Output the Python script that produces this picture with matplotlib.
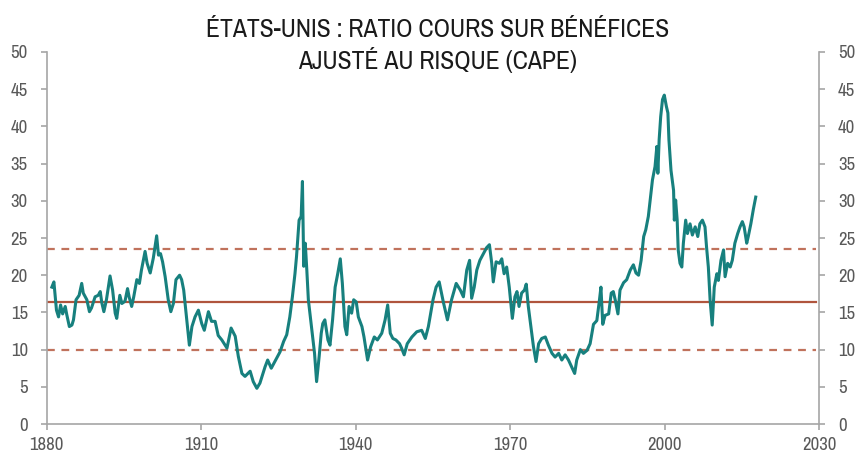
import numpy as np
import matplotlib
matplotlib.use('Agg')
import matplotlib.pyplot as plt
from matplotlib import font_manager

# Données (CAPE de Shiller, Etats-Unis)
annees = [
    1881.0, 1881.4, 1881.9, 1882.3, 1882.7, 1883.1, 1883.6, 1883.9, 1884.4, 1884.9,
    1885.2, 1885.7, 1886.3, 1886.8, 1887.1, 1887.8, 1888.3, 1888.7, 1889.4, 1890.0,
    1890.4, 1890.7, 1891.1, 1891.6, 1892.3, 1892.8, 1893.3, 1893.6, 1894.2, 1894.6,
    1895.2, 1895.7, 1896.0, 1896.5, 1896.9, 1897.5, 1898.0, 1898.4, 1899.1, 1899.5,
    1900.1, 1900.7, 1901.35, 1901.7, 1902.1, 1902.5, 1903.0, 1903.6, 1904.1, 1904.6,
    1905.1, 1905.8, 1906.2, 1906.6, 1907.2, 1907.7, 1908.2, 1908.8, 1909.45, 1910.1,
    1910.6, 1911.4, 1912.0, 1912.7, 1913.3, 1914.0, 1915.0, 1915.8, 1916.6, 1917.2,
    1917.9, 1918.5, 1919.5, 1920.1, 1920.8, 1921.4, 1922.4, 1922.9, 1923.6, 1924.3,
    1925.3, 1926.0, 1926.6, 1927.2, 1927.7, 1928.2, 1928.5, 1929.0, 1929.4, 1929.65,
    1929.9, 1930.2, 1930.5, 1930.8, 1931.1, 1931.6, 1932.0, 1932.4, 1932.9, 1933.3,
    1933.6, 1934.0, 1934.6, 1935.0, 1935.5, 1936.0, 1936.5, 1937.0, 1937.4, 1937.9,
    1938.25, 1938.7, 1939.2, 1939.6, 1940.1, 1940.5, 1941.2, 1941.6, 1942.3, 1942.9,
    1943.6, 1944.2, 1945.05, 1945.7, 1946.2, 1946.7, 1947.2, 1947.8, 1948.5, 1948.9,
    1949.4, 1950.0, 1950.9, 1951.85, 1952.8, 1953.5, 1954.1, 1955.0, 1955.6, 1956.2,
    1957.0, 1957.8, 1958.6, 1959.5, 1960.3, 1960.9, 1961.55, 1962.1, 1962.5, 1963.0,
    1963.5, 1964.1, 1964.8, 1965.4, 1965.95, 1966.4, 1966.7, 1967.25, 1967.9, 1968.35,
    1968.8, 1969.3, 1969.8, 1970.4, 1970.9, 1971.3, 1971.7, 1972.2, 1972.75, 1973.1,
    1973.5, 1974.0, 1974.5, 1975.0, 1975.5, 1976.1, 1976.8, 1977.4, 1978.1, 1978.7,
    1979.4, 1980.0, 1980.65, 1981.3, 1981.9, 1982.5, 1982.9, 1983.6, 1984.2, 1984.9,
    1985.5, 1986.15, 1986.8, 1987.3, 1987.6, 1987.95, 1988.4, 1989.1, 1989.6, 1990.0,
    1990.4, 1990.9, 1991.3, 1992.0, 1992.6, 1993.3, 1993.9, 1994.4, 1994.9, 1995.4,
    1995.9, 1996.3, 1996.8, 1997.3, 1997.6, 1998.1, 1998.45, 1998.65, 1998.9, 1999.2,
    1999.55, 1999.9, 2000.3, 2000.6, 2000.8, 2001.2, 2001.7, 2001.85, 2002.1, 2002.4,
    2002.6, 2002.95, 2003.3, 2003.6, 2004.05, 2004.4, 2004.9, 2005.35, 2005.9, 2006.4,
    2006.8, 2007.3, 2007.8, 2008.1, 2008.45, 2008.8, 2009.2, 2009.6, 2010.1, 2010.4,
    2010.9, 2011.4, 2011.7, 2012.2, 2012.7, 2013.1, 2013.6, 2014.15, 2014.6, 2015.05,
    2015.4, 2015.9, 2016.2, 2016.7, 2017.2, 2017.65,
]
cape = [
    18.4, 19.1, 15.3, 14.4, 16.0, 14.8, 15.8, 14.7, 13.1, 13.3,
    14.0, 16.7, 17.3, 18.9, 17.6, 16.7, 15.1, 15.6, 17.1, 17.3,
    17.8, 16.3, 15.1, 16.7, 19.9, 18.0, 14.9, 14.2, 17.3, 16.2,
    16.5, 18.2, 17.1, 15.8, 17.1, 19.4, 18.9, 20.7, 23.2, 21.6,
    20.3, 22.3, 25.3, 22.7, 22.9, 21.8, 19.8, 16.7, 15.1, 16.2,
    19.4, 20.0, 19.4, 18.0, 14.0, 10.6, 13.1, 14.4, 15.3, 13.5,
    12.6, 15.1, 13.8, 13.8, 11.9, 11.3, 10.2, 12.9, 11.8, 9.1,
    6.8, 6.4, 7.1, 5.7, 4.8, 5.5, 7.7, 8.6, 7.5, 8.4,
    9.7, 11.1, 12.0, 14.4, 17.1, 20.2, 22.5, 27.4, 27.9, 32.6,
    21.2, 24.3, 20.7, 16.7, 14.9, 11.8, 9.5, 5.7, 9.1, 12.2,
    13.5, 14.0, 11.3, 10.6, 14.0, 18.4, 20.2, 22.2, 18.9, 13.1,
    12.0, 15.8, 14.9, 16.7, 16.4, 14.4, 13.1, 11.7, 8.6, 10.4,
    11.7, 11.3, 12.2, 14.0, 16.0, 12.2, 11.5, 11.3, 10.8, 10.2,
    9.3, 10.8, 11.7, 12.4, 12.6, 11.5, 13.1, 16.7, 18.4, 19.1,
    16.4, 14.0, 16.7, 18.9, 18.0, 17.1, 20.7, 22.0, 16.9, 18.4,
    20.7, 22.0, 22.9, 23.7, 24.1, 21.6, 19.1, 21.8, 21.6, 22.2,
    20.2, 21.1, 18.4, 14.2, 17.1, 17.8, 15.8, 17.6, 18.0, 18.8,
    15.8, 13.1, 10.4, 8.4, 10.8, 11.5, 11.7, 10.6, 9.5, 9.0,
    9.5, 8.6, 9.3, 8.6, 7.7, 6.8, 8.6, 10.0, 9.5, 9.9,
    10.8, 13.4, 13.9, 16.6, 18.4, 13.4, 14.6, 14.8, 17.6, 17.8,
    16.6, 14.8, 18.0, 19.0, 19.4, 20.7, 21.4, 20.3, 20.0, 22.0,
    25.2, 26.1, 27.9, 31.0, 32.8, 34.6, 37.3, 33.7, 38.2, 41.3,
    43.6, 44.2, 42.7, 41.8, 38.2, 34.1, 31.4, 27.4, 30.1, 27.4,
    23.4, 21.6, 21.1, 24.3, 27.4, 25.6, 26.9, 25.4, 26.5, 25.2,
    26.9, 27.4, 26.5, 23.8, 21.1, 16.6, 13.3, 18.4, 20.2, 19.3,
    22.0, 23.4, 19.8, 21.6, 21.1, 22.0, 24.3, 25.6, 26.5, 27.2,
    26.5, 24.3, 25.2, 26.9, 28.9, 30.5,
]
moyenne = 16.4
bande_haute = 23.5
bande_basse = 10.0
ticks_x = [1880, 1910, 1940, 1970, 2000, 2030]
ticks_y = list(range(0, 51, 5))

# Police étroite si disponible (le modèle utilise une police condensée)
etroite = None
for f in font_manager.fontManager.ttflist:
    nom = f.name.lower()
    if 'narrow' in nom or 'condensed' in nom:
        etroite = ('nom', f.name)
        break
if etroite is None:
    for f in font_manager.fontManager.ttflist:
        if f.name == 'DejaVu Sans' and str(f.stretch) in ('condensed', 'semi-condensed', '87.5', '75'):
            etroite = ('etire', f.name)
            break

if etroite is not None and etroite[0] == 'nom':
    plt.rcParams['font.family'] = [etroite[1], 'DejaVu Sans']
elif etroite is not None:
    plt.rcParams['font.family'] = ['DejaVu Sans']
    plt.rcParams['font.stretch'] = 'condensed'
else:
    plt.rcParams['font.family'] = ['Roboto', 'DejaVu Sans']

gris_axe = '#a6a6a6'
gris_texte = '#595959'
sarcelle = '#17807e'
brique = '#b0553d'

fig = plt.figure(figsize=(8.55, 4.54), dpi=100)
ax = fig.add_axes([0.0546, 0.066, 0.9037, 0.8195])

# Lignes de référence : moyenne et +/- 1 écart-type
ax.plot([1880, 2029.3], [moyenne, moyenne], color=brique, linewidth=1.6)
ax.plot([1880, 2029.3], [bande_haute, bande_haute], color='#c0725c',
        linewidth=1.6, linestyle=(0, (3.5, 3)))
ax.plot([1880, 2029.3], [bande_basse, bande_basse], color='#c0725c',
        linewidth=1.6, linestyle=(0, (3.5, 3)))

ax.plot(annees, cape, color=sarcelle, linewidth=2.2, solid_joinstyle='round')

ax.set_xlim(1880, 2030)
ax.set_ylim(0, 50)
ax.set_xticks(ticks_x)
ax.set_yticks(ticks_y)

ax.spines['top'].set_visible(False)
for cote in ['left', 'right', 'bottom']:
    ax.spines[cote].set_color(gris_axe)
    ax.spines[cote].set_linewidth(1.2)

ax.tick_params(axis='both', colors=gris_axe, length=4.5, width=1.2,
               labelcolor=gris_texte, labelsize=13.5)
ax.tick_params(axis='y', left=True, right=True, labelleft=True, labelright=True, pad=9)
ax.tick_params(axis='x', pad=5)

fig.text(0.512, 0.918, 'ÉTATS-UNIS : RATIO COURS SUR BÉNÉFICES',
         ha='center', va='baseline', fontsize=18.5, color='#1a1a1a')
fig.text(0.512, 0.848, 'AJUSTÉ AU RISQUE (CAPE)',
         ha='center', va='baseline', fontsize=18.5, color='#1a1a1a')

fig.savefig('out.png', dpi=100)
